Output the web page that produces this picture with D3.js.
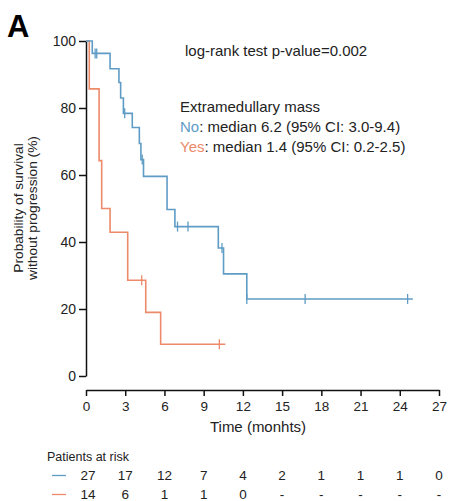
<!DOCTYPE html>
<html>
<head>
<meta charset="utf-8">
<script src="https://cdn.jsdelivr.net/npm/d3@7"></script>
<style>
  body { margin: 0; background: #fff; }
  text { font-family: "Liberation Sans", Arial, sans-serif; fill: #222; }
</style>
</head>
<body>
<svg id="chart"></svg>
<script>
// Kaplan-Meier steps (time in months, survival in %)
const noTimes = [0, 0.48, 1.84, 2.52, 2.65, 2.86, 3.54, 4.08, 4.2, 4.4, 6.2, 6.8, 10.12, 10.52, 12.3];
const noSurv  = [100, 96.3, 91.7, 87.6, 83.0, 78.4, 74.2, 69.4, 64.6, 59.6, 49.7, 44.6, 38.2, 30.5, 23.0];
const noEnd = 25.0;
const noCensorTimes = [0.7, 0.82, 2.96, 4.3, 7.0, 7.8, 10.4, 12.3, 16.76, 24.6];
const noCensorSurv  = [96.3, 96.3, 78.4, 64.6, 44.6, 44.6, 38.2, 23.0, 23.0, 23.0];

const yesTimes = [0, 0.25, 1.0, 1.2, 1.84, 3.19, 4.57, 5.71];
const yesSurv  = [100, 85.7, 64.3, 50.0, 42.9, 28.6, 19.0, 9.5];
const yesEnd = 10.66;
const yesCensorTimes = [4.26, 10.2];
const yesCensorSurv  = [28.6, 9.5];

const xTicks = [0, 3, 6, 9, 12, 15, 18, 21, 24, 27];
const yTicks = [0, 20, 40, 60, 80, 100];
const riskNo  = [27, 17, 12, 7, 4, 2, 1, 1, 1, 0];
const riskYes = [14, 6, 1, 1, 0, '-', '-', '-', '-', '-'];

const blue = '#5f9cc5';
const orange = '#ec8a6a';
const fontFamily = '"Liberation Sans", Arial, sans-serif';

const width = 450;
const height = 501;

const svg = d3.select('#chart')
  .attr('width', width)
  .attr('height', height)
  .attr('viewBox', [0, 0, width, height]);

const x = d3.scaleLinear().domain([0, 27]).range([86, 439]);
const y = d3.scaleLinear().domain([0, 100]).range([376, 41]);

// panel letter
svg.append('text')
  .attr('x', 7).attr('y', 37)
  .attr('font-size', 31).attr('font-weight', 'bold')
  .style('fill', '#000')
  .text('A');

// y axis
svg.append('g')
  .attr('transform', 'translate(86,0)')
  .call(d3.axisLeft(y).tickValues(yTicks).tickSize(7).tickPadding(3).tickSizeOuter(0))
  .call((g) => g.select('.domain').attr('stroke', '#111').attr('stroke-width', 1.5))
  .call((g) => g.selectAll('.tick line').attr('stroke', '#111').attr('stroke-width', 1.5))
  .call((g) => g.selectAll('.tick text').attr('font-size', 14).attr('font-family', fontFamily).style('fill', '#222'));

// x axis (offset below the plot)
svg.append('g')
  .attr('transform', 'translate(0,390)')
  .call(d3.axisBottom(x).tickValues(xTicks).tickSize(6).tickPadding(5).tickSizeOuter(0))
  .call((g) => g.select('.domain').attr('stroke', '#111').attr('stroke-width', 1.5))
  .call((g) => g.selectAll('.tick line').attr('stroke', '#111').attr('stroke-width', 1.5))
  .call((g) => g.selectAll('.tick text').attr('font-size', 13.5).attr('font-family', fontFamily).style('fill', '#222'));

// axis titles
svg.append('text')
  .attr('x', 258).attr('y', 432)
  .attr('text-anchor', 'middle').attr('font-size', 15)
  .text('Time (monhts)');

const yTitle = svg.append('text')
  .attr('transform', 'translate(0,208) rotate(-90)')
  .attr('text-anchor', 'middle').attr('font-size', 13.7);
yTitle.append('tspan').attr('x', 0).attr('y', 23).text('Probability of survival');
yTitle.append('tspan').attr('x', 0).attr('y', 37).text('without progression (%)');

// survival curves
const line = d3.line()
  .x((d) => x(d[0]))
  .y((d) => y(d[1]))
  .curve(d3.curveStepAfter);

function drawCurve(times, surv, end, cTimes, cSurv, color) {
  const pts = times.map((t, i) => [t, surv[i]]);
  pts.push([end, surv[surv.length - 1]]);
  svg.append('path')
    .datum(pts)
    .attr('fill', 'none')
    .attr('stroke', color)
    .attr('stroke-width', 1.6)
    .attr('d', line);
  svg.append('g')
    .selectAll('line')
    .data(cTimes.map((t, i) => [t, cSurv[i]]))
    .join('line')
    .attr('x1', (d) => x(d[0])).attr('x2', (d) => x(d[0]))
    .attr('y1', (d) => y(d[1]) - 5).attr('y2', (d) => y(d[1]) + 5)
    .attr('stroke', color)
    .attr('stroke-width', 1.3);
}

drawCurve(yesTimes, yesSurv, yesEnd, yesCensorTimes, yesCensorSurv, orange);
drawCurve(noTimes, noSurv, noEnd, noCensorTimes, noCensorSurv, blue);

// annotations
svg.append('text')
  .attr('x', 185).attr('y', 55.5)
  .attr('font-size', 15)
  .text('log-rank test p-value=0.002');

svg.append('text')
  .attr('x', 180).attr('y', 112)
  .attr('font-size', 15)
  .text('Extramedullary mass');

const noLab = svg.append('text').attr('x', 180).attr('y', 131.5).attr('font-size', 15);
noLab.append('tspan').style('fill', blue).text('No');
noLab.append('tspan').text(': median 6.2 (95% CI: 3.0-9.4)');

const yesLab = svg.append('text').attr('x', 180).attr('y', 152).attr('font-size', 15);
yesLab.append('tspan').style('fill', orange).text('Yes');
yesLab.append('tspan').text(': median 1.4 (95% CI: 0.2-2.5)');

// patients at risk table
svg.append('text')
  .attr('x', 47).attr('y', 461)
  .attr('font-size', 12.5)
  .text('Patients at risk');

const rows = [
  { values: riskNo, color: blue, y: 480 },
  { values: riskYes, color: orange, y: 499 },
];

rows.forEach((r) => {
  svg.append('line')
    .attr('x1', 52).attr('x2', 66)
    .attr('y1', r.y - 4.5).attr('y2', r.y - 4.5)
    .attr('stroke', r.color).attr('stroke-width', 1.3);
  svg.append('g')
    .selectAll('text')
    .data(r.values)
    .join('text')
    .attr('x', (d, i) => x(xTicks[i]) + (i === 0 ? 2 : 0))
    .attr('y', r.y)
    .attr('text-anchor', 'middle')
    .attr('font-size', 13.5)
    .text((d) => d);
});
</script>
</body>
</html>
